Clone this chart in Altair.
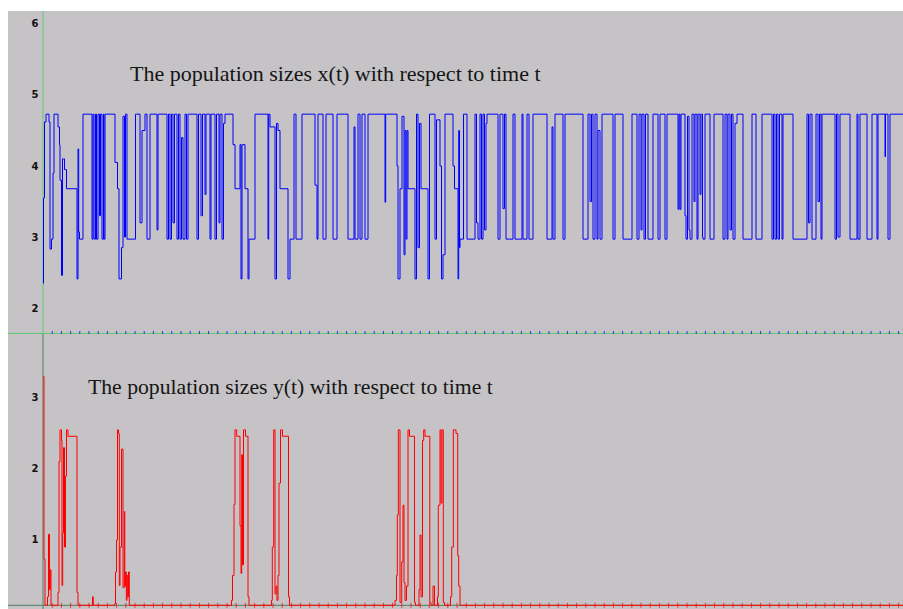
import altair as alt
import pandas as pd

# ---- data (time = offset from the y axis) ----
blue_t = [0, 0.5, 1.5, 3, 6, 7, 8.5, 10, 11, 15, 16.5, 17, 18.5, 19.5, 21.5, 23.5, 34, 35, 35.7, 36.5, 40,
          49, 50, 51, 52.5, 53.5, 55, 56.5, 57.5, 59, 60.5, 61, 62, 72, 74.5, 76, 78.5, 80, 81.5, 82.5, 84,
          92.5, 97, 99, 102, 104, 107, 114, 115, 124, 125.5, 127, 128.5, 130, 131.5, 134, 135.5, 137, 138.5,
          140, 142, 143.5, 145, 154, 155.5, 158, 159.5, 162, 163, 167, 168, 172, 173.5, 176, 177, 179, 180.5,
          182, 190, 192,
          197, 198, 199, 202, 205, 206, 212, 225, 225.7, 227, 232, 233.5, 235, 237, 245, 247, 251, 253, 259,
          272, 274, 275, 280, 283, 290, 294, 305, 311, 312, 315, 317, 319, 322, 325, 342, 342.7, 354, 355,
          357, 359, 361, 362, 363, 364, 365, 372, 373.5, 375, 376.5, 378, 385, 386.5, 392, 393.5, 397, 398.5,
          400, 402, 410, 411.5, 415, 415.7, 416.5, 417,
          420.5, 424, 432, 433.5, 435, 437, 438.5, 440, 441.5, 443, 444, 455, 457, 460, 461.5, 463, 470, 472,
          479, 480, 484, 486, 490, 504, 509, 510, 512, 520, 522, 540, 545, 547, 548.5, 550, 552, 554, 555,
          557, 559, 570, 572, 580, 589, 594, 596, 598, 599, 601, 602.5, 605, 610, 615, 617, 622, 624, 635, 636,
          637, 638, 642, 643, 644.5, 646, 647, 649, 651, 652, 654, 655, 657, 658, 659.5, 660, 662, 667, 671,
          680, 682, 684, 685, 687, 688.5, 690, 692, 694, 700, 709, 713, 719, 729, 730.5, 732, 733.5, 735,
          736.5, 739, 740, 750, 764, 765.5, 767, 769, 773, 775, 776.5, 778, 779, 792, 793.5, 795, 797, 807,
          814, 815, 817, 824, 829, 834, 835, 842, 842.5, 845, 847, 860]
blue_x = [2.35, 3.55, 4.62, 4.73, 4.62, 2.83, 2.97, 3.9, 4.73, 4.55, 4.3, 3.8, 2.46, 4.1, 3.95, 3.68, 2.41, 4.24, 3.07, 2.97, 4.73,
          2.97, 4.73, 2.97, 4.73, 2.97, 4.73, 3.3, 4.73, 2.97, 4.73, 2.97, 4.73, 4.05, 3.68, 2.41, 2.85, 4.7, 3.0, 4.73, 2.97,
          4.73, 3.2, 4.5, 4.73, 2.97, 4.73, 3.1, 4.73, 2.97, 4.73, 2.97, 4.73, 3.2, 4.73, 2.97, 4.73, 2.97, 4.4,
          2.97, 4.73, 2.97, 4.73, 2.97, 4.73, 3.3, 4.73, 3.6, 4.73, 2.97, 4.73, 2.97, 4.73, 3.2, 4.73, 2.97, 4.6,
          4.73, 4.3, 3.68,
          4.3, 2.41, 4.3, 3.68, 2.41, 2.97, 4.73, 2.97, 4.73, 4.55, 2.41, 4.6, 4.5, 3.68, 2.41, 2.97, 4.73, 2.97, 4.73,
          3.73, 2.97, 4.73, 2.97, 4.73, 2.97, 4.73, 2.97, 4.55, 2.97, 4.73, 2.97, 4.73, 2.97, 4.73, 3.49, 4.73, 4.0, 2.41,
          3.68, 4.7, 2.75, 4.5, 2.97, 4.5, 3.68, 2.41, 4.73, 2.85, 4.6, 3.68, 2.41, 4.73, 2.97, 4.65, 4.0, 2.41,
          2.75, 4.73, 4.0, 3.68, 2.41, 4.5, 2.85, 2.97,
          4.73, 2.97, 4.73, 3.2, 2.97, 4.73, 2.97, 4.73, 3.1, 4.6, 4.73, 2.97, 4.73, 3.4, 4.73, 2.97, 4.73, 2.97,
          4.73, 2.97, 4.73, 2.97, 4.73, 2.97, 4.55, 2.97, 4.73, 2.97, 4.73, 2.97, 4.73, 3.5, 4.73, 2.97, 4.73, 2.97, 4.5,
          2.97, 4.73, 2.97, 4.73, 2.97, 4.73, 2.97, 4.73, 3.1, 4.73, 2.97, 4.73, 2.97, 4.73, 2.97, 4.73, 2.97, 4.73, 3.39, 4.73,
          3.39, 4.73, 3.3, 2.97, 4.7, 3.1, 2.97, 4.73, 3.5, 4.73, 2.97, 4.73, 3.6, 4.73, 3.0, 2.97, 4.73, 2.97, 4.73,
          2.97, 4.73, 2.97, 4.73, 3.1, 4.73, 2.97, 4.6, 4.73, 2.97, 4.73, 2.97, 4.73, 2.97, 4.73, 2.97, 4.73, 2.97,
          4.73, 2.97, 4.73, 2.97, 4.73, 3.2, 4.73, 2.97, 4.73, 3.5, 4.73, 2.97, 4.73, 2.97, 4.73, 3.0, 4.73, 2.97,
          4.73, 2.97, 4.73, 2.97, 4.73, 2.97, 4.73, 4.13, 4.73, 2.97, 4.73, 4.73]

red_t = [0, 1, 2, 4.5, 5.5, 6.5, 7.3, 8, 15, 16, 17, 18.5, 19, 19.7, 20.5, 21.5, 22.5, 23.5, 25, 34, 35,
         49.5, 50.3, 71.5, 72.5, 73.5, 74.5, 75.5, 76.3, 77, 78.5, 80, 81.3, 81.8, 82.5, 83.3, 84, 84.7, 85.5, 86.3,
         188.5, 189.5, 191, 192, 193.7, 197, 198, 198.7, 199.5, 200.5, 202.5, 205, 206,
         228.5, 229.3, 230.7, 232, 233, 234, 235, 236, 237.5, 239.5, 245.5, 246.5,
         352, 353.5, 354.3, 355.3, 357, 358.7, 360, 361, 362, 363.5, 365, 366.5, 371.5, 372.5,
         376, 377, 378, 379.5, 380.7, 382, 386.8, 388, 390, 391.5, 394.5, 395.3, 397, 398, 399, 400.3, 401.5,
         407.5, 408.7, 410.3, 413, 414.7, 415.7, 417, 860]
red_y = [3.3, 0.73, 0.08, 0.2, 1.08, 0.3, 0.58, 0.08, 0.26, 2.1, 2.55, 2.4, 0.36, 1.1, 2.3, 0.9, 1.9, 2.55, 2.46, 0.26, 0.08,
         0.2, 0.08, 0.1, 0.55, 1.0, 2.55, 2.5, 0.36, 0.9, 2.28, 0.33, 1.4, 0.35, 0.55, 0.15, 0.5, 0.2, 0.55, 0.08,
         0.15, 0.5, 1.5, 2.55, 2.46, 1.2, 0.53, 2.2, 0.65, 2.55, 2.46, 0.2, 0.08,
         0.15, 0.9, 2.55, 0.24, 0.35, 0.15, 0.5, 1.8, 2.55, 2.46, 0.2, 0.08,
         0.15, 0.5, 1.35, 2.55, 0.12, 0.69, 1.49, 0.4, 0.15, 0.35, 2.55, 2.46, 0.12, 0.08,
         0.3, 1.07, 0.2, 2.4, 2.55, 2.46, 0.12, 0.08, 0.35, 0.08, 0.2, 1.49, 2.55, 1.52, 2.55, 0.12, 0.08,
         0.2, 0.9, 2.55, 2.5, 0.78, 0.35, 0.08, 0.08]

top_labels = [2, 3, 4, 5, 6]
bottom_labels = [1, 2, 3]
tick_step = 9.2
tick_t = [round(tick_step * k, 2) for k in range(1, 94)]
top_axis_level = 1.642
bottom_axis_level = 0.08
title_x = "The population sizes x(t) with respect to time t"
title_y = "The population sizes y(t) with respect to time t"

BG = "#c5c3c5"
GREEN_TOP = "#5ec870"
GREEN_BOT = "#4e7e5e"
W = 895

xscale = alt.Scale(domain=[-35, 860], nice=False, zero=False)
top_scale = alt.Scale(domain=[1.634, 6.183], nice=False, zero=False)
bot_scale = alt.Scale(domain=[0, 3.9], nice=False, zero=False)


def yaxis(vals):
    return alt.Axis(values=vals, title=None, domain=False, ticks=False, grid=False,
                    offset=-35, labelPadding=5, labelFont="DejaVu Sans", labelFontSize=10,
                    labelFontWeight="bold", labelColor="#111111")


def panel(t, v, color, scale, labels, axis_level, green, title, tx, ty, height, fsize):
    ax = yaxis(labels)
    line_df = pd.DataFrame({"t": t, "v": v})
    tick_df = pd.DataFrame({"t": tick_t,
                            "y0": [axis_level - 0.035] * len(tick_t),
                            "y1": [axis_level + 0.035] * len(tick_t)})
    origin_df = pd.DataFrame({"t": [0]})
    level_df = pd.DataFrame({"v": [axis_level]})
    text_df = pd.DataFrame({"s": [title]})

    hrule = alt.Chart(level_df).mark_rule(color=green, strokeWidth=1, clip=True).encode(
        y=alt.Y("v:Q", scale=scale, axis=ax))
    vrule = alt.Chart(origin_df).mark_rule(color=green, strokeWidth=1, clip=True).encode(
        x=alt.X("t:Q", scale=xscale, axis=None))
    ticks = alt.Chart(tick_df).mark_rule(color=color, strokeWidth=1, opacity=0.75, clip=True).encode(
        x=alt.X("t:Q", scale=xscale, axis=None),
        y=alt.Y("y0:Q", scale=scale, axis=ax),
        y2="y1:Q")
    line = alt.Chart(line_df).mark_line(color=color, strokeWidth=1, interpolate="step-after",
                                        clip=True).encode(
        x=alt.X("t:Q", scale=xscale, axis=None),
        y=alt.Y("v:Q", scale=scale, axis=ax))
    text = alt.Chart(text_df).mark_text(font="Liberation Serif", fontSize=fsize, align="left",
                                        baseline="alphabetic", color="#151515").encode(
        text="s:N", x=alt.value(tx), y=alt.value(ty))
    return alt.layer(hrule, vrule, ticks, line, text).properties(width=W, height=height)


top = panel(blue_t, blue_x, "#0000ff", top_scale, top_labels, top_axis_level, GREEN_TOP,
            title_x, 122, 70, 323, 22)
bottom = panel(red_t, red_y, "#ff0000", bot_scale, bottom_labels, bottom_axis_level, GREEN_BOT,
               title_y, 80, 60, 277, 21.7)

chart = alt.vconcat(top, bottom, spacing=0, bounds="flush").properties(
    padding={"left": 8, "top": 11, "right": 0, "bottom": 0},
    background="white",
).configure_view(fill=BG, stroke=None)

chart.save("out.html", embed_options={"renderer": "svg", "actions": False})
